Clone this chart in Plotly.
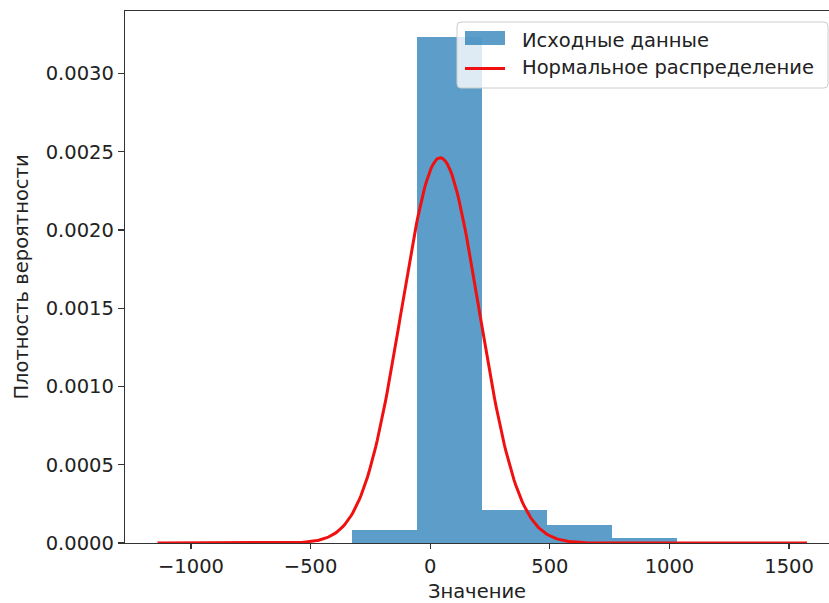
import numpy as np
import plotly.graph_objects as go

# ---- data ----
bin_edges = [-1140, -868.5, -597, -325.5, -54, 217.5, 489, 760.5, 1032, 1303.5, 1575]
bin_density = [0.000004, 0.0, 0.0, 0.000085, 0.003236, 0.000213, 0.000117, 0.000034, 0.0, 0.000004]
norm_mean = 42.0
norm_std = 162.0
x_tick_vals = [-1000, -500, 0, 500, 1000, 1500]
x_tick_text = ["\u22121000", "\u2212500", "0", "500", "1000", "1500"]
y_tick_vals = [0.0, 0.0005, 0.0010, 0.0015, 0.0020, 0.0025, 0.0030]
series_names = ["Исходные данные", "Нормальное распределение"]
x_title = "Значение"
y_title = "Плотность вероятности"

# ---- derived ----
edges = np.array(bin_edges)
centers = (edges[:-1] + edges[1:]) / 2
widths = np.diff(edges)
xs = np.linspace(edges[0], edges[-1], 400)
ys = np.exp(-0.5 * ((xs - norm_mean) / norm_std) ** 2) / (norm_std * np.sqrt(2 * np.pi))

W, H = 829, 603
L, R, T, B = 125, 0, 11, 60
pw, ph = W - L - R, H - T - B

def px(x):
    return (x - L) / pw

def py(y):
    return (H - B - y) / ph

bar_color = "rgba(31,119,180,0.72)"
font = "DejaVu Sans, Liberation Sans, sans-serif"
fs = 19.5

fig = go.Figure()
fig.add_trace(go.Bar(x=centers, y=bin_density, width=widths,
                     marker=dict(color=bar_color, line=dict(width=0)),
                     name=series_names[0], showlegend=False))
fig.add_trace(go.Scatter(x=xs, y=ys, mode="lines",
                         line=dict(color="#f01010", width=3),
                         name=series_names[1], showlegend=False))

# legend (drawn matplotlib-style)
bx0, bx1, by0, by1, r = 457, 828, 22, 88, 4
rx, ry = r / pw, r / ph
X0, X1, Y0, Y1 = px(bx0), px(bx1), py(by0), py(by1)
path = (f"M {X0+rx},{Y0} L {X1-rx},{Y0} Q {X1},{Y0} {X1},{Y0-ry} "
        f"L {X1},{Y1+ry} Q {X1},{Y1} {X1-rx},{Y1} L {X0+rx},{Y1} "
        f"Q {X0},{Y1} {X0},{Y1+ry} L {X0},{Y0-ry} Q {X0},{Y0} {X0+rx},{Y0} Z")
shapes = [
    dict(type="path", xref="paper", yref="paper", path=path,
         fillcolor="rgba(255,255,255,0.8)", line=dict(color="#cccccc", width=1), layer="above"),
    dict(type="rect", xref="paper", yref="paper", x0=px(465), x1=px(505), y0=py(45), y1=py(31),
         fillcolor=bar_color, line=dict(width=0), layer="above"),
    dict(type="line", xref="paper", yref="paper", x0=px(465), x1=px(505), y0=py(68.5), y1=py(68.5),
         line=dict(color="#f01010", width=3), layer="above"),
]
annotations = [
    dict(xref="paper", yref="paper", x=px(520), y=py(40), text=series_names[0],
         showarrow=False, xanchor="left", yanchor="middle",
         font=dict(family=font, size=fs, color="#222")),
    dict(xref="paper", yref="paper", x=px(520), y=py(68), text=series_names[1],
         showarrow=False, xanchor="left", yanchor="middle",
         font=dict(family=font, size=fs, color="#222")),
]

fig.update_layout(
    width=W, height=H,
    margin=dict(l=L, r=R, t=T, b=B, pad=0, autoexpand=False),
    paper_bgcolor="white", plot_bgcolor="white",
    bargap=0, barmode="overlay",
    font=dict(family=font, size=fs, color="#222"),
    shapes=shapes, annotations=annotations,
    xaxis=dict(range=[-1276, 1667], tickvals=x_tick_vals, ticktext=x_tick_text,
               showgrid=False, zeroline=False, showline=True, mirror=True,
               linecolor="#333", linewidth=1.2, ticks="outside", ticklen=5,
               tickcolor="#333", tickwidth=1.2, automargin=False,
               tickfont=dict(size=fs),
               title=dict(text=x_title, standoff=12, font=dict(size=fs))),
    yaxis=dict(range=[0, 0.0034], tickvals=y_tick_vals, tickformat=".4f",
               showgrid=False, zeroline=False, showline=True, mirror=False,
               linecolor="#333", linewidth=1.2, ticks="outside", ticklen=6,
               tickcolor="#333", tickwidth=1.2, automargin=False,
               tickfont=dict(size=fs),
               title=dict(text=y_title, standoff=11, font=dict(size=fs))),
)

fig.write_html(
    "out.html",
    config={"displayModeBar": False, "staticPlot": True},
    post_script="document.body.style.margin='0';document.body.style.padding='0';"
                "document.body.style.overflow='hidden';"
                "document.documentElement.style.overflow='hidden';",
)
